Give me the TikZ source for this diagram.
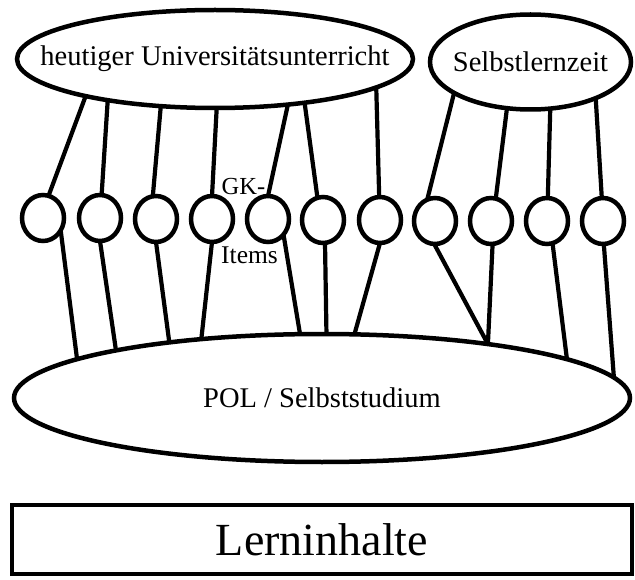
\documentclass[tikz,border=0pt]{standalone}
\usepackage{fontspec}
\setmainfont{Liberation Serif}
\usetikzlibrary{shapes.geometric}
\begin{document}
\begin{tikzpicture}[x=1pt,y=-1pt,
  ovalshape/.style={ellipse, draw, line width=4.5pt, inner sep=0pt, outer sep=0pt},
  itemcirc/.style={ellipse, draw, line width=4.5pt, inner sep=0pt, outer sep=0pt, minimum width=42pt, minimum height=46pt},
  conn/.style={line width=4.2pt},
  lbl/.style={inner sep=0pt, font=\fontsize{28.5}{30}\selectfont},
  smalllbl/.style={inner sep=0pt, anchor=base}]
\useasboundingbox (0,0) rectangle (635,580);
% ellipses
\node[ovalshape, minimum width=396pt, minimum height=98pt] (uni) at (215,59) {};
\node[lbl] (unit) at (uni.center) {heutiger Universitätsunterricht};
\node[ovalshape, minimum width=201pt, minimum height=95pt] (sel) at (530.5,62) {};
\node[lbl] (selt) at (sel.center) {Selbstlernzeit};
\node[ovalshape, minimum width=616pt, minimum height=128pt] (pol) at (322,398) {};
\node[lbl] (polt) at (pol.center) {POL / Selbststudium};
% item circles
\foreach \i/\x/\y in {1/43/218, 2/100/218, 3/156/219, 4/212/219, 5/268/219, 6/323/220, 7/380/220, 8/435/221, 9/491/221, 10/547/221, 11/603/221}
  \node[itemcirc] (c\i) at (\x,\y) {};
% top connectors
\draw[conn] (uni.196) -- (c1.76);
\draw[conn] (uni.201) -- (c2.86);
\draw[conn] (uni.221) -- (c3.98);
\draw[conn] (uni.272) -- (c4.90);
\draw[conn] (uni.328) -- (c5.90);
\draw[conn] (uni.334) -- (c6.104);
\draw[conn] (uni.350) -- (c7.92);
\draw[conn] (sel.202) -- (c8.110);
\draw[conn] (sel.243) -- (c9.78);
\draw[conn] (sel.293) -- (c10.88);
\draw[conn] (sel.331) -- (c11.93);
% bottom connectors
\draw[conn] (c1.325) -- (pol.171);
\draw[conn] (c2.270) -- (pol.167);
\draw[conn] (c3.270) -- (pol.160);
\draw[conn] (c4.270) -- (pol.154);
\draw[conn] (c5.315) -- (pol.109);
\draw[conn] (c6.275) -- (pol.86);
\draw[conn] (c7.270) -- (pol.63);
\draw[conn] (c8.268) -- (pol.18);
\draw[conn] (c9.274) -- (pol.18);
\draw[conn] (c10.284) -- (pol.9);
\draw[conn] (c11.272) -- (pol.4);
% labels
\node[smalllbl, font=\fontsize{24.5}{26}\selectfont] (gk) at (243.5,195) {GK-};
\node[smalllbl, font=\fontsize{25.5}{27}\selectfont] (items) at (249.5,264) {Items};
% box
\node[draw, line width=4.5pt, minimum width=620pt, minimum height=69pt, inner sep=0pt, outer sep=0pt, font=\fontsize{46}{50}\selectfont] (lern) at (322,539.5) {Lerninhalte};
\end{tikzpicture}
\end{document}
